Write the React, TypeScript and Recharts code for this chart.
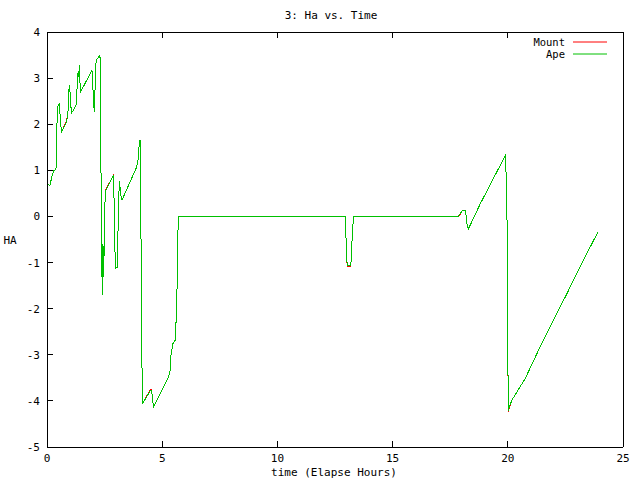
import { LineChart, Line, XAxis, YAxis } from 'recharts';

// elapsed hours, shared by both series
const hours = [
  0, 0.04, 0.13, 0.22, 0.3, 0.39, 0.42, 0.45, 0.54, 0.56,
  0.59, 0.64, 0.85, 0.91, 0.94, 0.97, 1.0, 1.03, 1.07, 1.14,
  1.26, 1.29, 1.35, 1.38, 1.4, 1.43, 1.46, 1.95, 1.98, 2.01,
  2.06, 2.1, 2.13, 2.18, 2.3, 2.33, 2.36, 2.4, 2.43, 2.45,
  2.49, 2.5, 2.55, 2.88, 2.91, 2.94, 2.98, 3.05, 3.07, 3.11,
  3.14, 3.17, 3.2, 3.26, 3.89, 3.96, 3.99, 4.04, 4.05, 4.07,
  4.11, 4.14, 4.51, 4.56, 4.59, 4.63, 5.27, 5.34, 5.38, 5.46,
  5.56, 5.63, 5.67, 5.7, 12.95, 12.97, 12.99, 13.03, 13.19, 13.21,
  13.27, 13.3, 17.85, 17.93, 18.03, 18.17, 18.22, 18.29, 18.33, 18.8,
  19.89, 19.92, 19.96, 19.99, 20.02, 20.17, 20.75, 21.4, 22.56, 23.28,
  23.9,
];

const apeHa = [
  0.62, 0.69, 0.67, 0.89, 0.99, 1.03, 1.68, 2.37, 2.44, 2.26,
  2.01, 1.84, 2.06, 2.26, 2.66, 2.86, 2.7, 2.41, 2.25, 2.3,
  2.42, 2.66, 3.13, 3.02, 3.29, 2.91, 2.7, 3.17, 3.06, 2.52,
  2.26, 3.06, 3.35, 3.42, 3.49, 2.19, -0.41, -1.71, -0.59, -1.32,
  -0.56, 0.17, 0.56, 0.89, 0.38, -0.63, -1.13, -1.1, -0.59, 0.31,
  0.76, 0.64, 0.46, 0.36, 1.07, 1.25, 1.5, 1.66, 1.36, 0.24,
  -2.62, -4.06, -3.76, -3.85, -4.03, -4.12, -3.49, -3.34, -3.02, -2.76,
  -2.69, -2.0, -0.67, 0, 0, -0.27, -0.77, -1.06, -1.06, -0.77,
  -0.27, 0, 0, 0.06, 0.13, 0.13, -0.14, -0.27, -0.23, 0.27,
  1.32, 1.0, 0.38, -2.07, -4.21, -3.99, -3.52, -2.83, -1.68, -0.95,
  -0.35,
];

const mountHa = [
  0.62, 0.69, 0.67, 0.89, 0.99, 1.03, 1.68, 2.37, 2.44, 2.26,
  2.01, 1.84, 2.08, 2.26, 2.66, 2.86, 2.7, 2.41, 2.25, 2.3,
  2.42, 2.66, 3.13, 3.02, 3.29, 2.91, 2.7, 3.17, 3.06, 2.52,
  2.26, 3.06, 3.35, 3.42, 3.49, 2.19, -0.41, -1.71, -0.59, -1.32,
  -0.56, 0.17, 0.58, 0.89, 0.38, -0.63, -1.13, -1.1, -0.59, 0.31,
  0.76, 0.64, 0.46, 0.36, 1.07, 1.25, 1.5, 1.66, 1.36, 0.24,
  -2.62, -4.06, -3.74, -3.85, -4.03, -4.12, -3.49, -3.34, -3.02, -2.76,
  -2.69, -2.0, -0.67, 0, 0, -0.27, -0.77, -1.08, -1.08, -0.77,
  -0.27, 0, 0, 0.04, 0.13, 0.13, -0.14, -0.27, -0.23, 0.27,
  1.32, 1.0, 0.38, -2.07, -4.23, -3.99, -3.52, -2.83, -1.68, -0.95,
  -0.35,
];

const xTicks = [0, 5, 10, 15, 20, 25];
const yTicks = [-5, -4, -3, -2, -1, 0, 1, 2, 3, 4];

const series = [
  { key: 'mount', name: 'Mount', color: '#ff0000' },
  { key: 'ape', name: 'Ape', color: '#00c000' },
];

const FONT = '"DejaVu Sans Mono", monospace';

// gnuplot style: tick marks point into the plot
const BottomTick = ({ x, y, payload }: any) => (
  <g>
    <line x1={x} y1={y} x2={x} y2={y - 6} stroke="#000" shapeRendering="crispEdges" />
    <text x={x} y={y + 15} textAnchor="middle" fontFamily={FONT} fontSize={11} fill="#000">
      {payload.value}
    </text>
  </g>
);

const TopTick = ({ x, y }: any) => (
  <line x1={x} y1={y} x2={x} y2={y + 6} stroke="#000" shapeRendering="crispEdges" />
);

const LeftTick = ({ x, y, payload }: any) => (
  <g>
    <line x1={x} y1={y} x2={x + 6} y2={y} stroke="#000" shapeRendering="crispEdges" />
    <text x={x - 7} y={y + 4} textAnchor="end" fontFamily={FONT} fontSize={11} fill="#000">
      {payload.value}
    </text>
  </g>
);

const RightTick = ({ x, y }: any) => (
  <line x1={x} y1={y} x2={x - 6} y2={y} stroke="#000" shapeRendering="crispEdges" />
);

export default function App() {
  const data = hours.map((h, i) => ({ h, mount: mountHa[i], ape: apeHa[i] }));
  const axisLine = { stroke: '#000', shapeRendering: 'crispEdges' };

  return (
    <div style={{ position: 'absolute', left: 0, top: 0, width: 640, height: 480, background: '#fff' }}>
      <LineChart width={640} height={480} data={data} margin={{ top: 31, right: 16, bottom: 0, left: 0 }}>
        <XAxis
          xAxisId="b"
          dataKey="h"
          type="number"
          domain={[0, 25]}
          ticks={xTicks}
          height={33}
          tickSize={0}
          tickMargin={0}
          tickLine={false}
          axisLine={axisLine}
          tick={<BottomTick />}
        />
        <XAxis
          xAxisId="t"
          orientation="top"
          dataKey="h"
          type="number"
          domain={[0, 25]}
          ticks={xTicks}
          height={1}
          tickSize={0}
          tickMargin={0}
          tickLine={false}
          axisLine={axisLine}
          tick={<TopTick />}
        />
        <YAxis
          yAxisId="l"
          type="number"
          domain={[-5, 4]}
          ticks={yTicks}
          width={47}
          tickSize={0}
          tickMargin={0}
          tickLine={false}
          axisLine={axisLine}
          tick={<LeftTick />}
        />
        <YAxis
          yAxisId="r"
          orientation="right"
          type="number"
          domain={[-5, 4]}
          ticks={yTicks}
          width={1}
          tickSize={0}
          tickMargin={0}
          tickLine={false}
          axisLine={axisLine}
          tick={<RightTick />}
        />
        {series.map((s) => (
          <Line
            key={s.key}
            xAxisId="b"
            yAxisId="l"
            type="linear"
            dataKey={s.key}
            name={s.name}
            stroke={s.color}
            strokeWidth={1}
            dot={false}
            shapeRendering="crispEdges"
            isAnimationActive={false}
          />
        ))}
      </LineChart>
      <svg width={640} height={480} style={{ position: 'absolute', left: 0, top: 0, pointerEvents: 'none' }}>
        <text x={331} y={19} textAnchor="middle" fontFamily={FONT} fontSize={11} fill="#000">3: Ha vs. Time</text>
        <text x={334} y={476} textAnchor="middle" fontFamily={FONT} fontSize={11} fill="#000">time (Elapse Hours)</text>
        <text x={10} y={244} textAnchor="middle" fontFamily={FONT} fontSize={11} fill="#000">HA</text>
        {series.map((s, i) => (
          <g key={s.key}>
            <text x={565} y={45.5 + i * 12} textAnchor="end" fontFamily={FONT} fontSize={10.5} fill="#000">{s.name}</text>
            <line x1={573} y1={42 + i * 12} x2={607} y2={42 + i * 12} stroke={s.color} />
          </g>
        ))}
      </svg>
    </div>
  );
}
